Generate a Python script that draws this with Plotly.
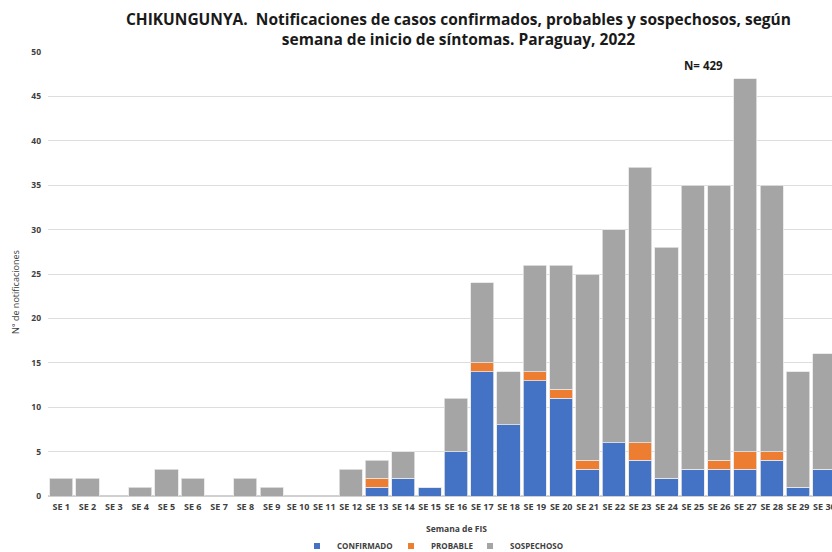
import plotly.graph_objects as go

semanas = [f"SE {i}" for i in range(1, 31)]
confirmado = [0, 0, 0, 0, 0, 0, 0, 0, 0, 0, 0, 0, 1, 2, 1, 5, 14, 8, 13, 11, 3, 6, 4, 2, 3, 3, 3, 4, 1, 3]
probable   = [0, 0, 0, 0, 0, 0, 0, 0, 0, 0, 0, 0, 1, 0, 0, 0, 1, 0, 1, 1, 1, 0, 2, 0, 0, 1, 2, 1, 0, 0]
sospechoso = [2, 2, 0, 1, 3, 2, 0, 2, 1, 0, 0, 3, 2, 3, 0, 6, 9, 6, 12, 14, 21, 24, 31, 26, 32, 31, 42, 30, 13, 13]
y_ticks = list(range(0, 51, 5))

FONT = "Open Sans"
series = [("CONFIRMADO", confirmado, "#4472C4"),
          ("PROBABLE", probable, "#ED7D31"),
          ("SOSPECHOSO", sospechoso, "#A5A5A5")]
legend_ids = ["legend", "legend2", "legend3"]
legend_x = [297, 391, 470]

fig = go.Figure()
for name, vals, col in series:
    fig.add_trace(go.Bar(x=semanas, y=vals, name=name, showlegend=False,
                         marker=dict(color=col, line=dict(color="#E6E6E6", width=0.8))))
# legend entries with small square symbols, one legend each
for (name, vals, col), lid in zip(series, legend_ids):
    fig.add_trace(go.Scatter(x=[None], y=[None], mode="markers", name=name, legend=lid,
                             marker=dict(symbol="square", size=6, color=col)))

legend_common = dict(orientation="h", xref="container", xanchor="left",
                     yref="container", y=1 - 546 / 552, yanchor="middle",
                     bgcolor="rgba(0,0,0,0)", itemwidth=30,
                     font=dict(size=8, family=FONT, color="#404040", weight="bold"))

fig.update_layout(
    barmode="stack", bargap=0.12,
    width=832, height=552,
    margin=dict(l=48, r=0, t=52, b=56, autoexpand=False),
    plot_bgcolor="white", paper_bgcolor="white",
    font=dict(family=FONT, color="#404040"),
    title=dict(text="<b>CHIKUNGUNYA.  Notificaciones de casos confirmados, probables y sospechosos, según<br>semana de inicio de síntomas. Paraguay, 2022</b>",
               x=0.551, xanchor="center", yref="container", y=1 - 25 / 552, yanchor="middle",
               font=dict(size=15.5, family=FONT, color="#1a1a1a")),
    xaxis=dict(range=[-0.5, 29.29], tickfont=dict(size=9, family=FONT, color="#404040", weight="bold"),
               showgrid=False, showline=False, ticks="", tickangle=0, ticklabelstandoff=4),
    yaxis=dict(range=[0, 50], tickvals=y_ticks, tickfont=dict(size=8.5, family=FONT, color="#404040", weight="bold"),
               gridcolor="#DDDDDD", gridwidth=1, zeroline=True, zerolinecolor="#D0D0D0",
               ticks="", ticklabelstandoff=6),
    legend=dict(x=legend_x[0] / 832, **legend_common),
    legend2=dict(x=legend_x[1] / 832, **legend_common),
    legend3=dict(x=legend_x[2] / 832, **legend_common),
    annotations=[
        dict(text="<b>N= 429</b>", x=(703 - 48) / 784, xref="paper", y=(496 - 65) / 444, yref="paper",
             xanchor="center", yanchor="middle", showarrow=False,
             font=dict(size=11.5, family=FONT, color="#1a1a1a")),
        dict(text="<b>Semana de FIS</b>", x=(457 - 48) / 784, xref="paper", y=(496 - 528) / 444, yref="paper",
             xanchor="center", yanchor="middle", showarrow=False,
             font=dict(size=8.5, family=FONT, color="#404040")),
        dict(text="N° de notificaciones", x=(15 - 48) / 784, xref="paper", y=(496 - 292) / 444, yref="paper",
             xanchor="center", yanchor="middle", showarrow=False, textangle=-90,
             font=dict(size=9, family=FONT, color="#404040")),
    ],
)

fig.write_html("out.html", config={"displayModeBar": False},
               post_script="document.body.style.margin='0';document.body.style.overflow='hidden';")
